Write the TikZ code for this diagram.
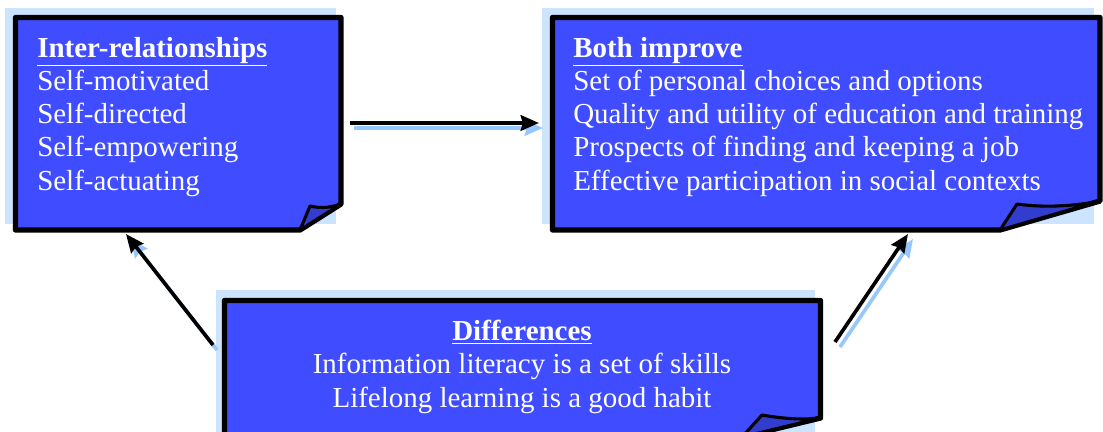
\documentclass[tikz,border=0pt]{standalone}
\usepackage{fontspec}
\setmainfont{Liberation Serif}
\usetikzlibrary{arrows.meta}
\definecolor{noteblue}{RGB}{64,76,255}
\definecolor{flapblue}{RGB}{50,60,205}
\definecolor{shadeblue}{RGB}{204,228,255}
\definecolor{arrowshade}{RGB}{150,200,255}
\tikzstyle{note}        = [draw=black, line width=3.8pt, fill=noteblue, line join=round]
\tikzstyle{flap}        = [draw=black, line width=2.2pt, fill=flapblue, line join=round]
\tikzstyle{shade}       = [fill=shadeblue]
\tikzstyle{notetext}    = [text=white, inner sep=0pt, align=left, font=\fontsize{20.6}{23.6}\selectfont]
\tikzstyle{arrow}       = [line width=2.6pt, -{Stealth[length=13pt,width=11pt,inset=1.5pt]}]
\tikzstyle{arrowshadow} = [arrow, draw=arrowshade]

\begin{document}
\begin{tikzpicture}[x=0.025cm,y=-0.025cm]
        \useasboundingbox (0,0) rectangle (1103,432);
        \clip (0,0) rectangle (1103,432);

        \fill[shade] (5,8) rectangle (336,224);
        \fill[shade] (542,8) rectangle (1094,224);
        \fill[shade] (216,290) rectangle (815,432);

        \coordinate (interout) at (350,123);
        \coordinate (improvein) at (539,123);
        \coordinate (diffleft) at (213,345);
        \coordinate (interin) at (126,234);
        \coordinate (diffright) at (835,342);
        \coordinate (improvebelow) at (908,234);

        \draw[arrowshadow] ([shift={(4,5)}]interout) -- ([shift={(4,5)}]improvein);
        \draw[arrowshadow] ([shift={(4,5)}]diffleft) -- ([shift={(4,5)}]interin);
        \draw[arrowshadow] ([shift={(5,5)}]diffright) -- ([shift={(5,5)}]improvebelow);

        \draw[note] (15.5,17.5) -- (341,17.5) -- (341,204) -- (300,230) -- (15.5,230) -- cycle;
        \draw[flap] (300,230) -- (310,206) .. controls (322,209) and (332,207) .. (341,204) -- cycle;

        \draw[note] (552.5,17.5) -- (1100,17.5) -- (1100,201) -- (1000,230) -- (552.5,230) -- cycle;
        \draw[flap] (1000,230) -- (1017,204) .. controls (1045,208) and (1075,206) .. (1100,201) -- cycle;

        \draw[note] (224.5,300.5) -- (820.5,300.5) -- (820.5,418) -- (742,437) -- (224.5,437) -- cycle;
        \draw[flap] (742,437) -- (762,415) .. controls (785,419) and (805,420) .. (820.5,418) -- cycle;

        \node[notetext, anchor=north west] (inter) at (37,37)
            {\underline{\textbf{Inter-relationships}}\\Self-motivated\\Self-directed\\Self-empowering\\Self-actuating};
        \node[notetext, anchor=north west] (improve) at (573,37)
            {\underline{\textbf{Both improve}}\\Set of personal choices and options\\Quality and utility of education and training\\Prospects of finding and keeping a job\\Effective participation in social contexts};
        \node[notetext, align=center, anchor=north] (diff) at (522,320)
            {\underline{\textbf{Differences}}\\Information literacy is a set of skills\\Lifelong learning is a good habit};

        \draw[arrow] (interout) -- (improvein);
        \draw[arrow] (diffleft) -- (interin);
        \draw[arrow] (diffright) -- (improvebelow);
\end{tikzpicture}
\end{document}
